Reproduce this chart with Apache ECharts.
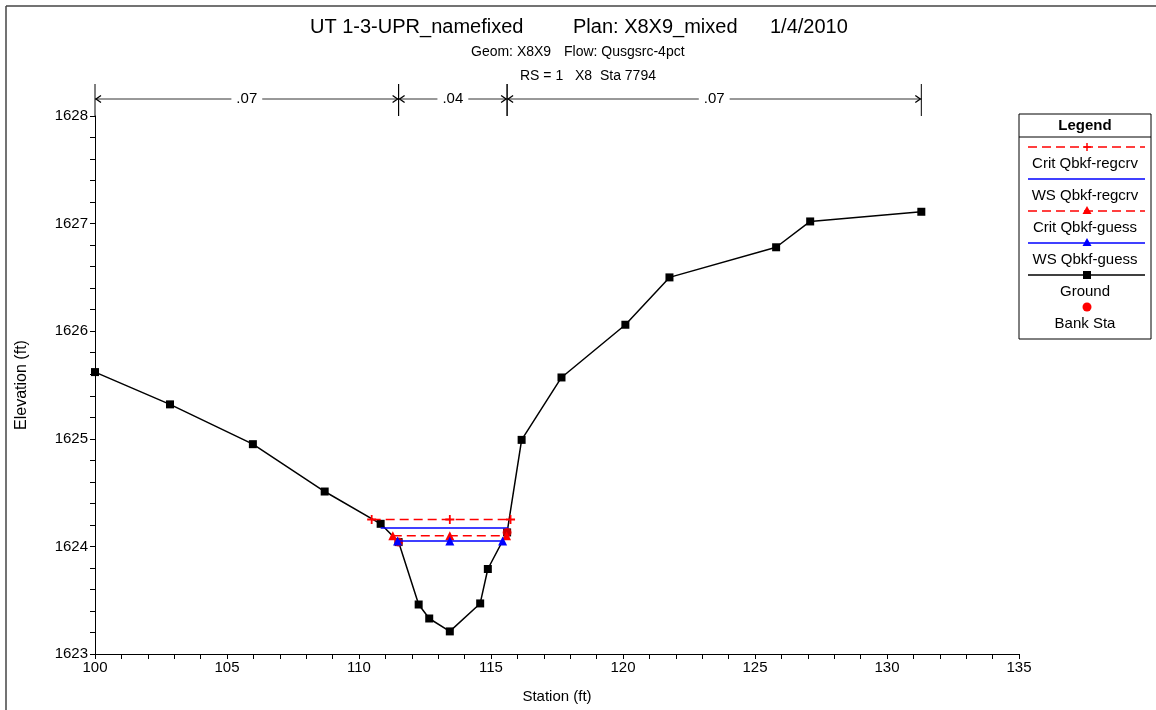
<!DOCTYPE html>
<html>
<head>
<meta charset="utf-8">
<script src="https://cdn.jsdelivr.net/npm/echarts@6/dist/echarts.min.js"></script>
<style>
  html, body { margin: 0; padding: 0; background: #fff; }
  #chart { width: 1156px; height: 710px; }
</style>
</head>
<body>
<div id="chart"></div>
<script>
// ground profile
const groundStation = [100, 102.84, 105.98, 108.70, 110.82, 111.50, 112.26, 112.66, 113.44, 114.59, 114.88, 115.61, 116.16, 117.67, 120.09, 121.76, 125.80, 127.09, 131.30];
const groundElev = [1625.62, 1625.32, 1624.95, 1624.51, 1624.21, 1624.04, 1623.46, 1623.33, 1623.21, 1623.47, 1623.79, 1624.13, 1624.99, 1625.57, 1626.06, 1626.50, 1626.78, 1627.02, 1627.11];

// bank stations
const bankStation = [111.50, 115.61];
const bankElev = [1624.04, 1624.13];

// water surfaces
const critRegStation = [110.48, 113.44, 115.74];
const critRegElev = [1624.25, 1624.25, 1624.25];
const wsRegStation = [110.82, 115.66];
const wsRegElev = [1624.17, 1624.17];
const critGuessStation = [111.28, 113.44, 115.59];
const critGuessElev = [1624.10, 1624.10, 1624.10];
const wsGuessStation = [111.46, 113.44, 115.44];
const wsGuessElev = [1624.05, 1624.05, 1624.05];

// manning's n zones
const nBounds = [100, 111.50, 115.61, 131.30];
const nValues = ['.07', '.04', '.07'];

const FONT = 'Liberation Sans, Arial, sans-serif';
const RED = '#ff0000';
const BLUE = '#0000ff';
const PLUS = 'path://M4,0H6V4H10V6H6V10H4V6H0V4H4Z';

const zip = (xs, ys) => xs.map((x, i) => [x, ys[i]]);

const chart = echarts.init(document.getElementById('chart'));

// legend box (drawn by hand, HEC-RAS style)
const legendItems = [
  { name: 'Crit Qbkf-regcrv', color: RED, dash: true, marker: 'plus' },
  { name: 'WS Qbkf-regcrv', color: BLUE, dash: false, marker: null },
  { name: 'Crit Qbkf-guess', color: RED, dash: true, marker: 'triangle' },
  { name: 'WS Qbkf-guess', color: BLUE, dash: false, marker: 'triangle' },
  { name: 'Ground', color: '#000', dash: false, marker: 'square' },
  { name: 'Bank Sta', color: RED, dash: null, marker: 'circle' }
];

function buildLegend() {
  const bx = 1019, by = 114, bw = 132, bh = 225;
  const cx = bx + bw / 2;
  const els = [
    { type: 'rect', shape: { x: bx, y: by, width: bw, height: bh }, style: { fill: '#fff', stroke: '#000', lineWidth: 1 } },
    { type: 'line', shape: { x1: bx, y1: by + 23, x2: bx + bw, y2: by + 23 }, style: { stroke: '#000', lineWidth: 1 } },
    { type: 'text', x: cx, y: by + 12, style: { text: 'Legend', font: 'bold 15px ' + FONT, fill: '#000', textAlign: 'center', textVerticalAlign: 'middle' } }
  ];
  legendItems.forEach((it, i) => {
    const ly = by + 33 + i * 32;
    if (it.dash !== null) {
      els.push({ type: 'line', shape: { x1: bx + 9, y1: ly, x2: bx + bw - 6, y2: ly },
        style: { stroke: it.color, lineWidth: 1.5, lineDash: it.dash ? [9, 5] : null } });
    }
    const mx = cx + 2;
    if (it.marker === 'plus') {
      els.push({ type: 'line', shape: { x1: mx - 4, y1: ly, x2: mx + 4, y2: ly }, style: { stroke: it.color, lineWidth: 1.5 } });
      els.push({ type: 'line', shape: { x1: mx, y1: ly - 4, x2: mx, y2: ly + 4 }, style: { stroke: it.color, lineWidth: 1.5 } });
    } else if (it.marker === 'triangle') {
      els.push({ type: 'polygon', shape: { points: [[mx, ly - 5], [mx - 4.5, ly + 3], [mx + 4.5, ly + 3]] }, style: { fill: it.color } });
    } else if (it.marker === 'square') {
      els.push({ type: 'rect', shape: { x: mx - 4, y: ly - 4, width: 8, height: 8 }, style: { fill: it.color } });
    } else if (it.marker === 'circle') {
      els.push({ type: 'circle', shape: { cx: mx, cy: ly, r: 4.5 }, style: { fill: it.color } });
    }
    els.push({ type: 'text', x: cx, y: ly + 17, style: { text: it.name, font: '15px ' + FONT, fill: '#000', textAlign: 'center', textVerticalAlign: 'middle' } });
  });
  return els;
}

// n-value dimension lines above the plot
function renderNZone(params, api) {
  const p0 = api.coord([api.value(0), api.value(2)]);
  const p1 = api.coord([api.value(1), api.value(2)]);
  const top = p0[1];
  const ay = top - 17;
  const tickTop = top - 32;
  const stroke = { stroke: '#000', lineWidth: 1 };
  const label = nValues[params.dataIndex];
  return {
    type: 'group',
    children: [
      { type: 'line', shape: { x1: p0[0], y1: ay, x2: p1[0], y2: ay }, style: Object.assign({}, stroke, { stroke: '#333' }) },
      { type: 'line', shape: { x1: p0[0], y1: tickTop, x2: p0[0], y2: top }, style: stroke },
      { type: 'line', shape: { x1: p1[0], y1: tickTop, x2: p1[0], y2: top }, style: stroke },
      { type: 'polyline', shape: { points: [[p0[0] + 6, ay - 3.5], [p0[0] + 1, ay], [p0[0] + 6, ay + 3.5]] }, style: Object.assign({ fill: null }, stroke, { lineWidth: 1.3 }) },
      { type: 'polyline', shape: { points: [[p1[0] - 6, ay - 3.5], [p1[0] - 1, ay], [p1[0] - 6, ay + 3.5]] }, style: Object.assign({ fill: null }, stroke, { lineWidth: 1.3 }) },
      { type: 'text', x: (p0[0] + p1[0]) / 2, y: ay,
        style: { text: label, font: '15px ' + FONT, fill: '#000', textAlign: 'center', textVerticalAlign: 'middle',
                 backgroundColor: '#fff', padding: [0, 5] } }
    ]
  };
}

const titleText = { fontFamily: FONT, fontWeight: 'normal', color: '#000' };

const option = {
  backgroundColor: '#fff',
  animation: false,
  title: [
    { text: 'UT 1-3-UPR_namefixed', left: 305, top: 12, textStyle: Object.assign({ fontSize: 20 }, titleText) },
    { text: 'Plan: X8X9_mixed', left: 568, top: 12, textStyle: Object.assign({ fontSize: 20 }, titleText) },
    { text: '1/4/2010', left: 765, top: 12, textStyle: Object.assign({ fontSize: 20 }, titleText) },
    { text: 'Geom: X8X9', left: 466, top: 40, textStyle: Object.assign({ fontSize: 14 }, titleText) },
    { text: 'Flow: Qusgsrc-4pct', left: 559, top: 40, textStyle: Object.assign({ fontSize: 14 }, titleText) },
    { text: 'RS = 1', left: 515, top: 64, textStyle: Object.assign({ fontSize: 14 }, titleText) },
    { text: 'X8  Sta 7794', left: 570, top: 64, textStyle: Object.assign({ fontSize: 14 }, titleText) }
  ],
  grid: { left: 95, right: 137, top: 116, bottom: 56 },
  xAxis: {
    type: 'value', min: 100, max: 135, interval: 5,
    name: 'Station (ft)', nameLocation: 'middle', nameGap: 35,
    nameTextStyle: { fontFamily: FONT, fontSize: 15, color: '#000' },
    axisLine: { lineStyle: { color: '#000', width: 1 } },
    axisTick: { length: 5, lineStyle: { color: '#000' } },
    minorTick: { show: true, splitNumber: 5, length: 5, lineStyle: { color: '#000' } },
    axisLabel: { fontFamily: FONT, fontSize: 15, color: '#000', margin: 6, formatter: v => String(v) },
    splitLine: { show: false }
  },
  yAxis: {
    type: 'value', min: 1623, max: 1628, interval: 1,
    name: 'Elevation (ft)', nameLocation: 'middle', nameGap: 65,
    nameTextStyle: { fontFamily: FONT, fontSize: 16, color: '#000' },
    axisLine: { show: true, lineStyle: { color: '#000', width: 1 } },
    axisTick: { show: true, length: 5, lineStyle: { color: '#000' } },
    minorTick: { show: true, splitNumber: 5, length: 5, lineStyle: { color: '#000' } },
    axisLabel: { fontFamily: FONT, fontSize: 15, color: '#000', margin: 7, formatter: v => String(v) },
    splitLine: { show: false }
  },
  graphic: [
    { type: 'line', shape: { x1: 6, y1: 6, x2: 1156, y2: 6 }, style: { stroke: '#444', lineWidth: 1.5 } },
    { type: 'line', shape: { x1: 6, y1: 6, x2: 6, y2: 710 }, style: { stroke: '#444', lineWidth: 1.5 } }
  ].concat(buildLegend()),
  series: [
    {
      name: 'n zones', type: 'custom', renderItem: renderNZone, clip: false, silent: true,
      encode: { x: [0, 1], y: 2 },
      data: nValues.map((v, i) => [nBounds[i], nBounds[i + 1], 1628])
    },
    {
      name: 'Ground', type: 'line', data: zip(groundStation, groundElev),
      lineStyle: { color: '#000', width: 1.5 }, itemStyle: { color: '#000' },
      symbol: 'rect', symbolSize: 8, showAllSymbol: true, z: 3
    },
    {
      name: 'Crit Qbkf-regcrv', type: 'line', data: zip(critRegStation, critRegElev),
      lineStyle: { color: RED, width: 1.5, type: [9, 5] }, itemStyle: { color: RED },
      symbol: PLUS, symbolSize: 9, z: 4
    },
    {
      name: 'WS Qbkf-regcrv', type: 'line', data: zip(wsRegStation, wsRegElev),
      lineStyle: { color: BLUE, width: 1.5 }, symbol: 'none', z: 4
    },
    {
      name: 'Crit Qbkf-guess', type: 'line', data: zip(critGuessStation, critGuessElev),
      lineStyle: { color: RED, width: 1.5, type: [9, 5] }, itemStyle: { color: RED },
      symbol: 'triangle', symbolSize: 9, z: 4
    },
    {
      name: 'Bank Sta', type: 'scatter', data: zip(bankStation, bankElev),
      itemStyle: { color: RED }, symbol: 'circle', symbolSize: 9, z: 5
    },
    {
      name: 'WS Qbkf-guess', type: 'line', data: zip(wsGuessStation, wsGuessElev),
      lineStyle: { color: BLUE, width: 1.5 }, itemStyle: { color: BLUE },
      symbol: 'triangle', symbolSize: 9, z: 6
    }
  ]
};

chart.setOption(option);
</script>
</body>
</html>
